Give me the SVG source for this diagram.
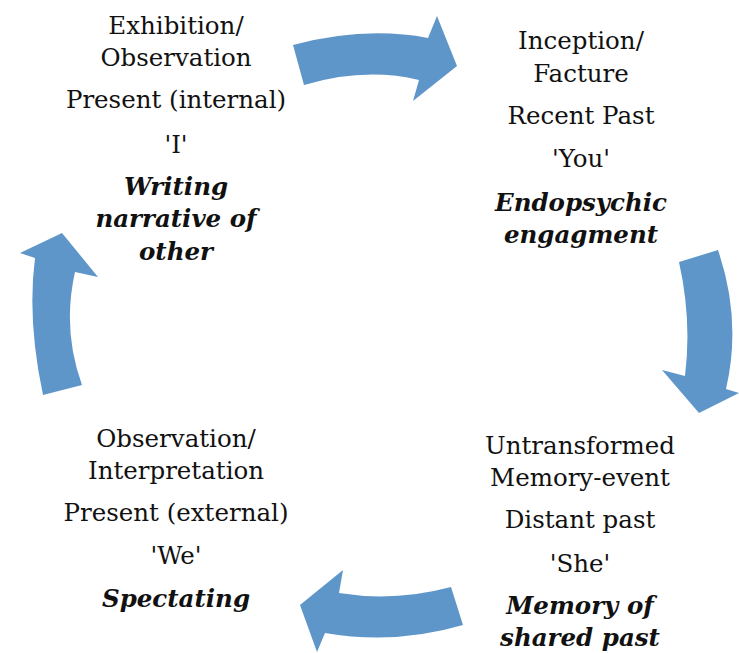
<svg xmlns="http://www.w3.org/2000/svg" width="739" height="653" viewBox="0 0 739 653">
  <style>
    .t { font-family: "DejaVu Serif", "Liberation Serif", serif; font-size: 24.5px; fill: #111; text-anchor: middle; }
    .b { font-weight: bold; font-style: italic; }
    .arrow { fill: #5f96c9; }
  </style>
  <rect width="739" height="653" fill="#ffffff"/>

  <!-- curved cycle arrows -->
  <g id="connectors">
    <path class="arrow" d="M293,45 Q365,26 428,38 L437,16 L457,66 L413,101 L419,80 Q365,67 304,85 Z"/>
    <path class="arrow" d="M679,262 Q692,320 685,376 L662,370 L699,413 L739,393 L726,389 Q742,320 718,250 Z"/>
    <path class="arrow" d="M451,587 Q395,602 339,593 L343,570 L300,605 L317,652 L325,633 Q395,645 463,625 Z"/>
    <path class="arrow" d="M43,395 Q27,320 35,258 L20,253 L62,233 L98,277 L75,272 Q62,330 82,385 Z"/>
  </g>

  <g id="node-exhibition">
    <text class="t" x="176" y="34">Exhibition/</text>
    <text class="t" x="176" y="66">Observation</text>
    <text class="t" x="176" y="108">Present (internal)</text>
    <text class="t" x="176" y="153">'I'</text>
    <text class="t b" x="176" y="195">Writing</text>
    <text class="t b" x="176" y="227">narrative of</text>
    <text class="t b" x="176" y="260">other</text>
  </g>

  <g id="node-inception">
    <text class="t" x="581" y="49">Inception/</text>
    <text class="t" x="581" y="82">Facture</text>
    <text class="t" x="581" y="124">Recent Past</text>
    <text class="t" x="581" y="167">'You'</text>
    <text class="t b" x="581" y="211">Endopsychic</text>
    <text class="t b" x="581" y="243">engagment</text>
  </g>

  <g id="node-memory">
    <text class="t" x="580" y="454">Untransformed</text>
    <text class="t" x="580" y="486">Memory-event</text>
    <text class="t" x="580" y="528">Distant past</text>
    <text class="t" x="580" y="572">'She'</text>
    <text class="t b" x="580" y="614">Memory of</text>
    <text class="t b" x="580" y="646">shared past</text>
  </g>

  <g id="node-observation">
    <text class="t" x="176" y="447">Observation/</text>
    <text class="t" x="176" y="479">Interpretation</text>
    <text class="t" x="176" y="521">Present (external)</text>
    <text class="t" x="176" y="564">'We'</text>
    <text class="t b" x="176" y="607">Spectating</text>
  </g>
</svg>
